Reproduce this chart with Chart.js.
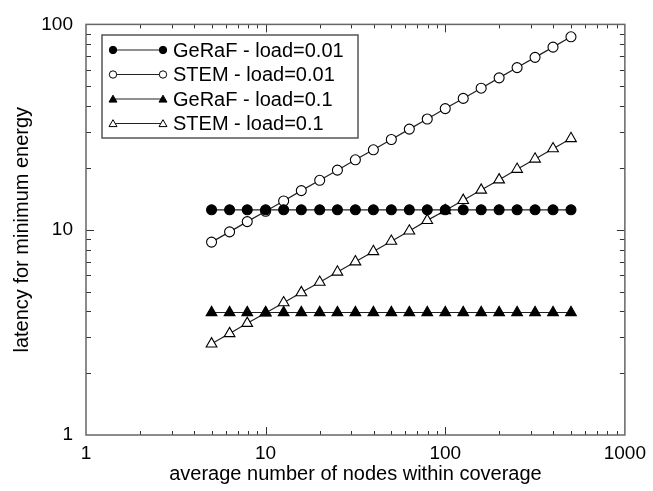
<!DOCTYPE html>
<html>
<head>
<meta charset="utf-8">
<script src="https://cdn.jsdelivr.net/npm/chart.js@4/dist/chart.umd.min.js"></script>
<style>
  html, body { margin: 0; padding: 0; background: #fff; }
  canvas { display: block; }
</style>
</head>
<body>
<canvas id="c" width="653" height="491"></canvas>
<script>
// ---- data ----
const nodes = [5, 6.3, 7.9, 10, 12.6, 15.8, 20, 25.1, 31.6, 39.8, 50.1, 63.1, 79.4, 100, 125.9, 158.5, 199.5, 251.2, 316.2, 398.1, 501.2];
const gerafLoad001 = [12.5, 12.5, 12.5, 12.5, 12.5, 12.5, 12.5, 12.5, 12.5, 12.5, 12.5, 12.5, 12.5, 12.5, 12.5, 12.5, 12.5, 12.5, 12.5, 12.5, 12.5];
const stemLoad001  = [8.7, 9.76, 10.95, 12.3, 13.8, 15.5, 17.4, 19.5, 21.9, 24.5, 27.5, 30.9, 34.6, 38.9, 43.6, 48.9, 54.9, 61.6, 69.1, 77.5, 87.0];
const gerafLoad01  = [3.95, 3.95, 3.95, 3.95, 3.95, 3.95, 3.95, 3.95, 3.95, 3.95, 3.95, 3.95, 3.95, 3.95, 3.95, 3.95, 3.95, 3.95, 3.95, 3.95, 3.95];
const stemLoad01   = [2.78, 3.12, 3.50, 3.93, 4.41, 4.94, 5.55, 6.22, 6.98, 7.83, 8.79, 9.86, 11.1, 12.4, 13.9, 15.6, 17.5, 19.7, 22.1, 24.8, 27.8];
const seriesNames  = ["GeRaF - load=0.01", "STEM - load=0.01", "GeRaF - load=0.1", "STEM - load=0.1"];
const xTickValues  = [1, 10, 100, 1000];
const yTickValues  = [1, 10, 100];
const xTitle = "average number of nodes within coverage";
const yTitle = "latency for minimum energy";

const FONT = "'Liberation Sans', Arial, Helvetica, sans-serif";

function pts(ys) { return nodes.map((x, i) => ({ x: x, y: ys[i] })); }

const styles = [
  { pointStyle: 'circle',   radius: 5,   fill: '#000' },
  { pointStyle: 'circle',   radius: 5,   fill: '#fff' },
  { pointStyle: 'triangle', radius: 6.2, fill: '#000' },
  { pointStyle: 'triangle', radius: 6.2, fill: '#fff' }
];
const allSeries = [gerafLoad001, stemLoad001, gerafLoad01, stemLoad01];

const datasets = allSeries.map((ys, i) => ({
  label: seriesNames[i],
  data: pts(ys),
  borderColor: '#222',
  borderWidth: 1.2,
  pointStyle: styles[i].pointStyle,
  pointRadius: styles[i].radius,
  pointBackgroundColor: styles[i].fill,
  pointBorderColor: '#000',
  pointBorderWidth: 1.1,
  tension: 0,
  fill: false
}));

function drawMarker(ctx, style, x, y, r, fill) {
  ctx.beginPath();
  if (style === 'circle') {
    ctx.arc(x, y, r, 0, Math.PI * 2);
  } else {
    ctx.moveTo(x, y - r);
    ctx.lineTo(x + r * Math.sin(Math.PI * 2 / 3), y - r * Math.cos(Math.PI * 2 / 3));
    ctx.lineTo(x + r * Math.sin(Math.PI * 4 / 3), y - r * Math.cos(Math.PI * 4 / 3));
    ctx.closePath();
  }
  ctx.fillStyle = fill;
  ctx.fill();
  ctx.lineWidth = 1;
  ctx.strokeStyle = '#000';
  ctx.stroke();
}

const framePlugin = {
  id: 'frame',
  beforeDatasetsDraw(chart) {
    const { ctx, chartArea: a, scales: { x, y } } = chart;
    ctx.save();
    ctx.strokeStyle = '#333';
    ctx.lineWidth = 1;
    for (let d = 0; d < xTickValues.length - 1; d++) {
      const base = xTickValues[d];
      for (let m = 1; m <= 9; m++) {
        if (m === 1 && d === 0) continue;
        const px = Math.round(x.getPixelForValue(base * m)) + 0.5;
        const len = (m === 1) ? 8 : 4;
        ctx.beginPath();
        ctx.moveTo(px, a.bottom); ctx.lineTo(px, a.bottom - len);
        ctx.moveTo(px, a.top); ctx.lineTo(px, a.top + len);
        ctx.stroke();
      }
    }
    for (let d = 0; d < yTickValues.length - 1; d++) {
      const base = yTickValues[d];
      for (let m = 1; m <= 9; m++) {
        if (m === 1 && d === 0) continue;
        const py = Math.round(y.getPixelForValue(base * m)) + 0.5;
        const len = (m === 1) ? 8 : 5;
        ctx.beginPath();
        ctx.moveTo(a.left, py); ctx.lineTo(a.left + len, py);
        ctx.moveTo(a.right, py); ctx.lineTo(a.right - len, py);
        ctx.stroke();
      }
    }
    ctx.strokeStyle = '#666';
    ctx.lineWidth = 1.5;
    ctx.strokeRect(a.left, a.top, a.right - a.left, a.bottom - a.top);
    ctx.restore();
  },
  afterDatasetsDraw(chart) {
    const { ctx } = chart;
    ctx.save();
    const bx = 102, by = 35, bw = 256, bh = 103;
    ctx.fillStyle = '#fff';
    ctx.fillRect(bx, by, bw, bh);
    ctx.strokeStyle = '#555';
    ctx.lineWidth = 1.5;
    ctx.strokeRect(bx, by, bw, bh);
    const rows = [50, 74.5, 99, 123.5];
    ctx.font = '20px ' + FONT;
    ctx.textBaseline = 'middle';
    seriesNames.forEach((name, i) => {
      const yy = rows[i];
      ctx.beginPath();
      ctx.strokeStyle = '#222';
      ctx.lineWidth = 1.2;
      ctx.moveTo(113, yy); ctx.lineTo(163, yy);
      ctx.stroke();
      const r = styles[i].pointStyle === 'circle' ? 3.7 : 4.6;
      const yOff = styles[i].pointStyle === 'circle' ? 0 : 0.8;
      drawMarker(ctx, styles[i].pointStyle, 113, yy + yOff, r, styles[i].fill);
      drawMarker(ctx, styles[i].pointStyle, 163, yy + yOff, r, styles[i].fill);
      ctx.fillStyle = '#000';
      ctx.fillText(name, 173, yy + 1);
    });
    ctx.restore();
  }
};

new Chart(document.getElementById('c'), {
  type: 'line',
  data: { datasets: datasets },
  plugins: [framePlugin],
  options: {
    responsive: false,
    animation: false,
    devicePixelRatio: 1,
    layout: { padding: { top: 16, right: 25, left: 0, bottom: 0 } },
    plugins: { legend: { display: false }, tooltip: { enabled: false } },
    scales: {
      x: {
        type: 'logarithmic',
        min: 1, max: 1000,
        grid: { display: false, drawTicks: false },
        border: { display: false },
        afterBuildTicks(s) { s.ticks = xTickValues.map(v => ({ value: v })); },
        afterFit(s) { s.height = 56; },
        ticks: {
          autoSkip: false, maxRotation: 0, padding: 7,
          color: '#000', font: { size: 19, family: FONT },
          callback: (v) => String(v)
        },
        title: { display: true, text: xTitle, color: '#000', font: { size: 20, family: FONT }, padding: { top: 0, bottom: 5 } }
      },
      y: {
        type: 'logarithmic',
        min: 1, max: 100,
        grid: { display: false, drawTicks: false },
        border: { display: false },
        afterBuildTicks(s) { s.ticks = yTickValues.map(v => ({ value: v })); },
        afterFit(s) { s.width = 86; },
        ticks: {
          autoSkip: false, padding: 13,
          color: '#000', font: { size: 19, family: FONT },
          callback: (v) => String(v)
        },
        title: { display: true, text: yTitle, color: '#000', font: { size: 20, family: FONT }, padding: { top: 10, bottom: 0 } }
      }
    }
  }
});
</script>
</body>
</html>
